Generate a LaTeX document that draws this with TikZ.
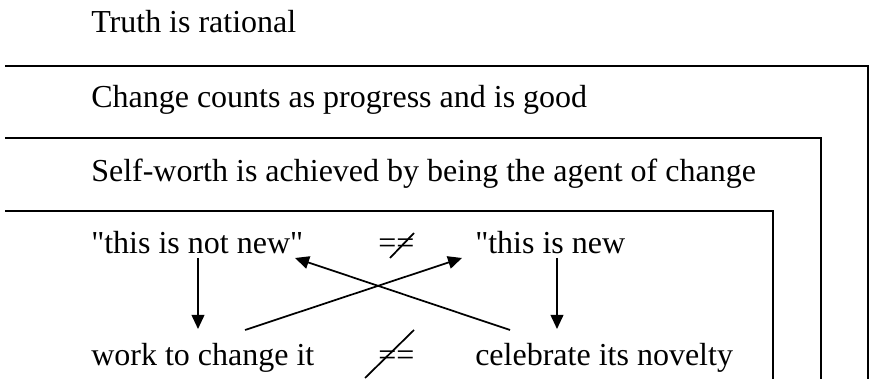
\documentclass[tikz,border=0pt]{standalone}
\usepackage{fontspec}
\setmainfont{Liberation Serif}
\newfontfamily\tnr{Liberation Serif}
\usetikzlibrary{arrows.meta}
\begin{document}
\begin{tikzpicture}[x=0.75pt,y=-0.75pt,
  frame/.style={line width=1.4pt},
  lbl/.style={anchor=base west,inner sep=0pt,font=\tnr\fontsize{24}{28}\selectfont},
  conn/.style={line width=1.3pt,-{Triangle[length=10.5pt,width=9.5pt]}},
  slash/.style={line width=1.3pt}]
\useasboundingbox (0,0) rectangle (874,391);
% frames
\draw[frame] (5,66) -- (868,66) -- (868,379);
\draw[frame] (5,138) -- (821,138) -- (821,379);
\draw[frame] (5,211) -- (773,211) -- (773,379);
% headings
\node[lbl] (truth) at (91,33) {Truth is rational};
\node[lbl] (change) at (91,108) {Change counts as progress and is good};
\node[lbl] (self) at (91,182) {Self-worth is achieved by being the agent of change};
% inner texts
\node[lbl] (notnew) at (91,254) {"this is not new"};
\node[lbl] (isnew) at (475,254) {"this is new};
\node[lbl] (work) at (91,365) {work to change it};
\node[lbl] (celeb) at (475,365) {celebrate its novelty};
\node[lbl] (neqtop) at (378,254) {==};
\node[lbl] (neqbot) at (378,365) {==};
% slashes through the equals signs
\coordinate (sl1a) at (390,258);
\coordinate (sl1b) at (414,233);
\coordinate (sl2a) at (365,378);
\coordinate (sl2b) at (414,330);
\draw[slash] (sl1a) -- (sl1b);
\draw[slash] (sl2a) -- (sl2b);
% connector end points
\coordinate (nnS) at (198,258);
\coordinate (wkN) at (198,329);
\coordinate (inS) at (557,258);
\coordinate (ceN) at (557,329);
\coordinate (wkNE) at (245,330);
\coordinate (inSW) at (462,258);
\coordinate (ceNW) at (510,330);
\coordinate (nnSE) at (295,258);
\draw[conn] (nnS) -- (wkN);
\draw[conn] (inS) -- (ceN);
\draw[conn] (wkNE) -- (inSW);
\draw[conn] (ceNW) -- (nnSE);
\end{tikzpicture}
\end{document}
